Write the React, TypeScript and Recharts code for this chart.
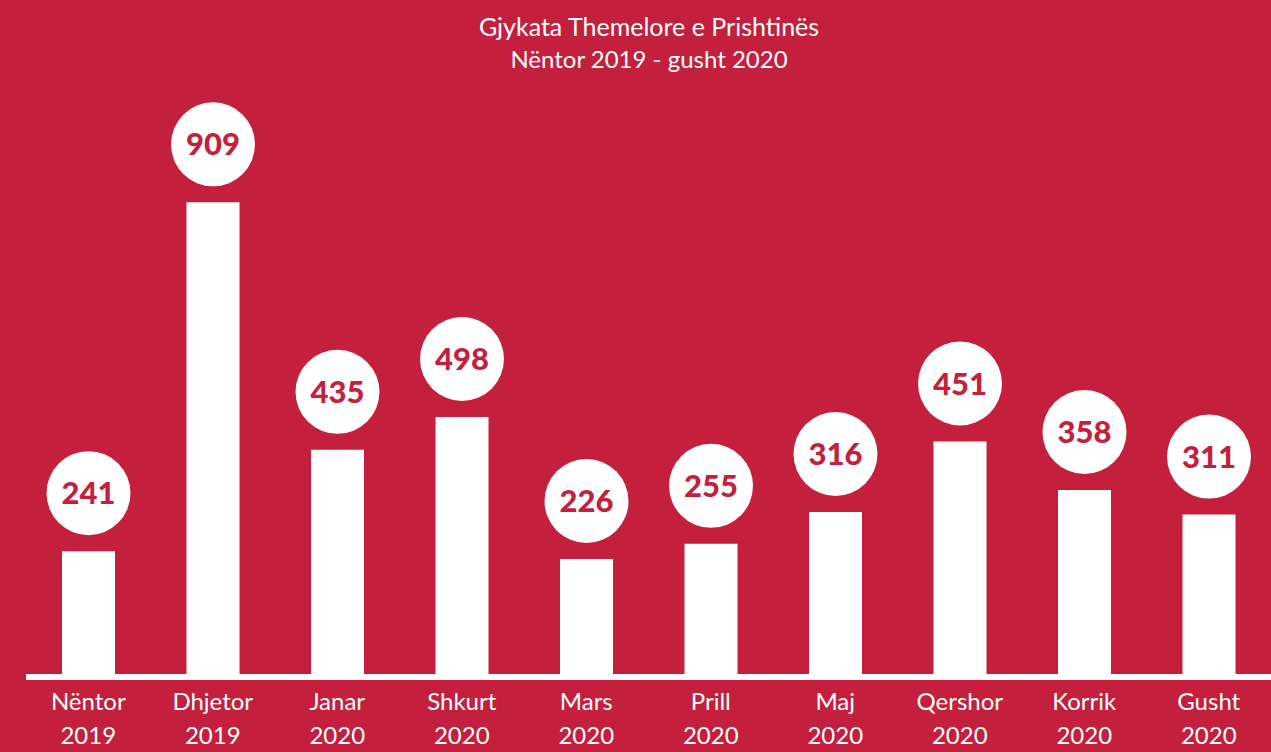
import React from "react";
import { BarChart, Bar, XAxis, YAxis, LabelList } from "recharts";

const months = ["Nëntor", "Dhjetor", "Janar", "Shkurt", "Mars", "Prill", "Maj", "Qershor", "Korrik", "Gusht"];
const years = ["2019", "2019", "2020", "2020", "2020", "2020", "2020", "2020", "2020", "2020"];
const cases = [241, 909, 435, 498, 226, 255, 316, 451, 358, 311];

const data = months.map((m, i) => ({ month: m, year: years[i], cases: cases[i] }));

const RED = "#C41F3D";
const FONT = "Lato, 'Open Sans', sans-serif";

const MonthTick = (props: any) => {
  const { x, y, index } = props;
  return (
    <g>
      <text x={x} y={y + 25} textAnchor="middle" fill="#fff" fontSize={24} fontFamily={FONT}>
        {months[index]}
      </text>
      <text x={x} y={y + 59} textAnchor="middle" fill="#fff" fontSize={24} fontFamily={FONT}>
        {years[index]}
      </text>
    </g>
  );
};

const Bubble = (props: any) => {
  const { x, y, width, value } = props;
  const cx = x + width / 2;
  const cy = y - 58;
  return (
    <g>
      <circle cx={cx} cy={cy} r={42} fill="#fff" />
      <text x={cx} y={cy + 11} textAnchor="middle" fill={RED} fontSize={31} fontWeight={900} fontFamily={FONT}>
        {value}
      </text>
    </g>
  );
};

export default function App() {
  return (
    <div style={{ position: "fixed", left: 0, top: 0, width: 1271, height: 752, background: RED }}>
      <BarChart width={1271} height={752} data={data} margin={{ top: 100, right: 0, left: 26, bottom: 0 }}>
        <text x={649} y={36} textAnchor="middle" fill="#fff" fontSize={25} fontFamily={FONT}>
          Gjykata Themelore e Prishtinës
        </text>
        <text x={649} y={68} textAnchor="middle" fill="#fff" fontSize={24} fontFamily={FONT}>
          Nëntor 2019 - gusht 2020
        </text>
        <YAxis hide domain={[0, 1105]} />
        <XAxis
          dataKey="month"
          height={75}
          axisLine={{ stroke: "#fff", strokeWidth: 6 }}
          tickLine={false}
          interval={0}
          tick={<MonthTick />}
        />
        <Bar dataKey="cases" fill="#fff" barSize={53} isAnimationActive={false}>
          <LabelList dataKey="cases" content={<Bubble />} />
        </Bar>
      </BarChart>
    </div>
  );
}
